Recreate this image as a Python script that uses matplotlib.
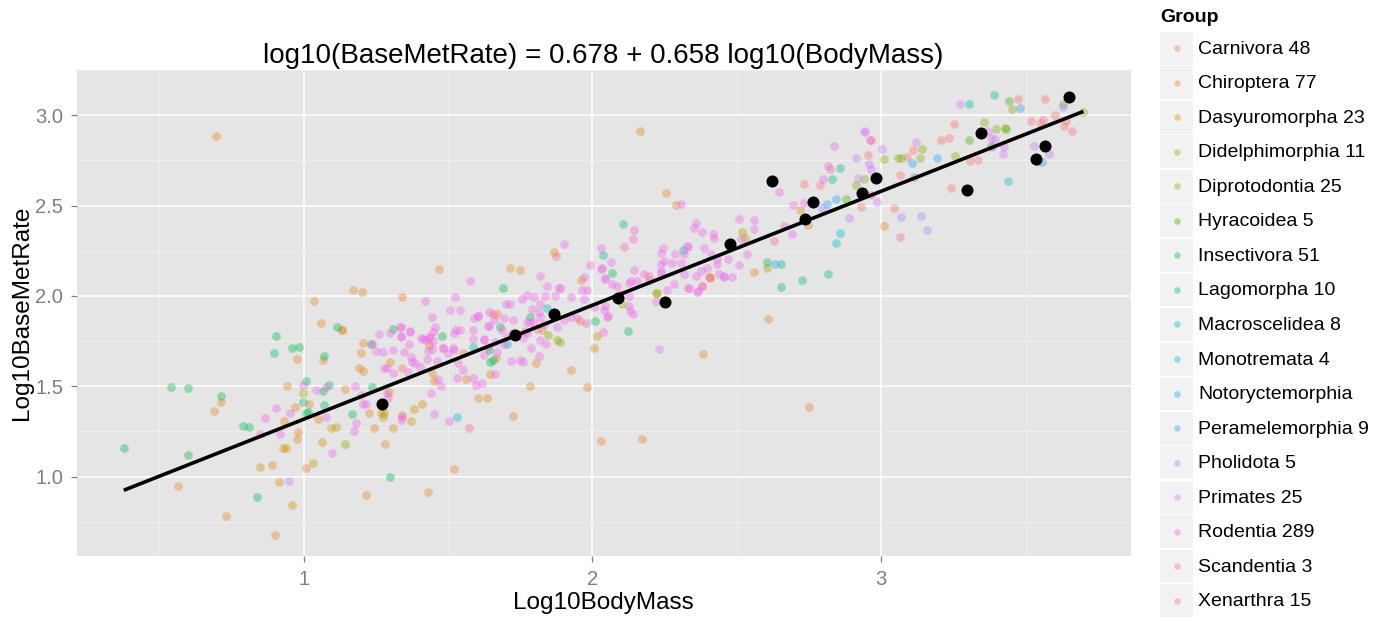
import numpy as np
import matplotlib
matplotlib.use("Agg")
import matplotlib.pyplot as plt
from matplotlib.patches import Rectangle

plt.rcParams['font.family'] = ['Liberation Sans', 'DejaVu Sans']

# ---------------- data (log10 body mass, log10 basal metabolic rate) ----------------
group_names = ["Carnivora", "Chiroptera", "Dasyuromorpha", "Didelphimorphia", "Diprotodontia",
               "Hyracoidea", "Insectivora", "Lagomorpha", "Macroscelidea", "Monotremata",
               "Notoryctemorphia", "Peramelemorphia", "Pholidota", "Primates", "Rodentia",
               "Scandentia", "Xenarthra"]
legend_labels = ["Carnivora 48", "Chiroptera 77", "Dasyuromorpha 23", "Didelphimorphia 11",
                 "Diprotodontia 25", "Hyracoidea 5", "Insectivora 51", "Lagomorpha 10",
                 "Macroscelidea 8", "Monotremata 4", "Notoryctemorphia", "Peramelemorphia 9",
                 "Pholidota 5", "Primates 25", "Rodentia 289", "Scandentia 3", "Xenarthra 15"]

carnivora = [(1.341, 1.602), (1.654, 1.897), (1.668, 1.902), (1.875, 2.219), (2.196, 2.110),
             (2.381, 2.055), (2.734, 2.617), (2.788, 2.612), (2.821, 2.700), (2.954, 2.777),
             (2.965, 2.860), (3.088, 2.770), (3.110, 2.805), (3.066, 2.669), (3.208, 2.864),
             (3.234, 2.875), (3.251, 2.952), (3.243, 2.598), (3.306, 2.746), (3.334, 2.750),
             (3.473, 3.090), (3.518, 2.967), (3.550, 2.954), (3.559, 2.972), (3.567, 3.087),
             (3.602, 3.000), (3.633, 2.939), (3.641, 2.967), (3.660, 2.912), (2.931, 2.494),
             (3.046, 2.488)]
chiroptera = [(0.697, 2.884), (0.566, 0.946), (0.713, 1.413), (0.688, 1.361), (0.730, 0.783),
              (0.890, 1.061), (0.916, 0.971), (0.900, 0.678), (0.976, 1.652), (1.036, 1.974),
              (1.059, 1.851), (1.132, 1.810), (1.066, 1.645), (0.942, 1.501), (1.017, 1.400),
              (0.971, 1.387), (0.933, 1.306), (1.048, 1.317), (0.980, 1.247), (0.976, 1.206),
              (1.008, 1.046), (1.143, 1.486), (1.207, 1.740), (1.200, 1.681),
              (1.192, 1.598), (1.206, 1.586), (1.227, 1.350), (1.242, 1.271),
              (1.310, 1.267), (1.282, 1.182), (1.216, 0.899), (1.429, 0.917), (1.522, 1.042),
              (1.341, 1.341), (1.296, 1.470), (1.299, 1.635), (1.435, 1.728), (1.443, 1.571),
              (1.452, 1.530), (1.551, 1.681), (1.561, 1.540), (1.605, 1.436), (1.634, 1.436),
              (1.667, 1.657), (1.726, 1.335), (1.806, 1.630), (1.785, 1.501), (1.825, 1.810),
              (1.924, 1.589), (1.958, 1.862), (1.982, 1.493), (2.030, 1.195), (1.339, 1.994),
              (1.468, 2.151), (1.713, 2.155), (1.748, 2.144), (1.171, 2.035), (1.201, 2.020),
              (1.866, 2.243), (1.961, 2.090), (2.164, 2.910), (2.255, 2.567), (2.289, 2.503),
              (2.406, 2.101), (2.560, 2.134), (2.719, 2.474), (2.748, 2.391), (3.011, 2.387),
              (2.608, 1.871), (2.384, 1.676), (2.751, 1.387), (2.170, 1.206), (1.134, 1.810)]
dasyuromorpha = [(0.848, 1.050), (0.958, 0.841), (0.930, 1.160), (0.939, 1.160), (1.063, 1.193),
                 (1.031, 1.077), (1.267, 1.350), (1.279, 1.350), (1.372, 1.308), (1.383, 1.372),
                 (1.411, 1.402), (2.016, 1.777), (2.005, 1.709), (1.646, 1.565), (1.095, 1.267),
                 (2.408, 2.105)]
didelphimorphia = [(1.112, 1.276), (1.275, 1.331), (2.603, 2.155), (2.518, 2.355), (2.528, 2.322),
                   (2.219, 2.015), (0.999, 1.460), (2.103, 1.954)]
diprotodontia = [(1.143, 1.178), (2.222, 2.015), (1.846, 1.783), (1.877, 1.755), (1.889, 1.746),
                 (2.913, 2.613), (2.939, 2.645), (3.454, 3.035), (3.630, 3.062), (3.700, 3.019),
                 (3.255, 2.773), (3.355, 2.960), (3.398, 2.923), (3.428, 2.930), (3.142, 2.811),
                 (3.134, 2.761), (3.067, 2.761), (3.058, 2.761), (3.008, 2.755)]
hyracoidea = [(2.878, 2.536), (3.442, 3.077), (3.431, 2.924), (3.303, 2.864), (3.379, 2.827)]
insectivora = [(0.377, 1.156), (0.542, 1.497), (0.600, 1.488), (0.600, 1.118), (0.713, 1.447),
               (0.791, 1.282), (0.811, 1.275), (0.837, 0.884), (0.904, 1.779), (0.896, 1.681),
               (0.958, 1.714), (0.985, 1.718), (1.116, 1.825), (1.069, 1.667), (1.007, 1.527),
               (1.087, 1.504), (1.066, 1.473), (0.999, 1.413), (1.007, 1.352), (1.016, 1.359),
               (1.069, 1.394), (1.166, 1.344), (1.237, 1.493), (1.233, 1.736), (1.311, 1.816),
               (1.300, 0.996), (1.479, 1.777), (1.681, 1.829), (1.657, 1.645), (1.643, 1.700),
               (1.646, 1.635), (1.785, 1.884), (2.008, 1.862), (2.124, 1.807), (2.066, 2.129),
               (2.603, 2.186), (2.654, 2.051), (1.690, 2.044)]
lagomorpha = [(2.037, 2.225), (2.107, 2.399), (2.653, 2.175), (2.726, 2.088), (2.815, 2.120),
              (2.858, 2.709), (2.829, 2.645), (3.303, 3.062), (3.389, 3.109)]
macroscelidea = [(1.588, 1.718), (1.704, 1.733), (2.315, 2.256), (1.844, 1.932)]
monotremata = [(3.438, 2.637), (3.556, 2.742), (2.857, 2.350), (2.843, 2.291)]
notoryctemorphia = [(1.530, 1.330)]
peramelemorphia = [(2.632, 2.178), (2.844, 2.536), (2.813, 2.507), (3.194, 2.764), (3.108, 2.736),
                   (3.113, 2.657), (3.480, 3.037)]
pholidota = [(3.137, 2.444), (3.157, 2.363), (3.628, 3.046), (2.794, 2.488), (3.067, 2.438)]
primates = [(2.232, 1.707), (2.236, 2.138), (2.317, 2.120), (2.454, 2.109), (2.986, 2.518),
            (3.122, 2.851), (2.942, 2.912), (3.003, 2.814), (2.956, 2.728), (2.963, 2.703),
            (3.528, 2.830), (3.581, 2.783), (3.544, 2.742), (3.273, 3.062), (3.370, 2.912),
            (3.379, 2.875), (3.393, 2.870), (3.426, 2.823), (3.423, 2.783), (3.382, 2.823),
            (2.919, 2.654), (2.944, 2.908), (2.911, 2.761), (2.890, 2.429), (0.948, 0.976)]
rodentia = [(0.999, 1.504), (1.041, 1.479), (1.077, 1.497), (0.904, 1.380), (0.866, 1.322),
            (0.952, 1.350), (1.077, 1.331), (0.847, 1.234), (0.918, 1.236), (1.098, 1.129),
            (1.421, 1.972), (1.525, 1.994), (1.262, 1.786), (1.299, 1.792), (1.333, 1.829),
            (1.338, 1.773), (1.369, 1.801), (1.250, 1.694), (1.179, 1.503), (1.200, 1.449),
            (1.204, 1.400), (1.215, 1.402), (1.181, 1.295), (1.174, 1.250), (1.339, 1.331),
            (1.336, 1.313), (1.452, 1.346), (1.504, 1.309), (1.287, 1.460), (1.293, 1.433),
            (1.277, 1.598), (1.287, 1.598), (1.310, 1.571), (1.360, 1.580), (1.375, 1.635),
            (1.387, 1.626), (1.403, 1.608), (1.311, 1.700), (1.347, 1.691), (1.363, 1.736),
            (1.373, 1.663), (1.405, 1.764), (1.424, 1.755), (1.429, 1.694), (1.444, 1.706),
            (1.447, 1.801), (1.438, 1.777), (1.456, 1.829), (1.446, 1.884), (1.428, 1.648),
            (1.461, 1.641), (1.484, 1.709), (1.499, 1.681), (1.440, 1.464), (1.475, 1.501),
            (1.464, 1.538), (1.507, 1.921), (1.528, 1.811), (1.542, 1.921), (1.522, 1.796),
            (1.519, 1.700), (1.536, 1.626), (1.550, 1.589), (1.532, 1.543), (1.591, 1.875),
            (1.605, 1.888), (1.588, 1.811), (1.623, 1.755), (1.641, 1.908), (1.588, 1.543),
            (1.597, 1.507), (1.617, 1.516), (1.640, 1.833), (1.660, 1.866), (1.692, 1.875),
            (1.725, 1.869), (1.623, 1.672), (1.640, 1.718), (1.663, 1.746), (1.669, 1.691),
            (1.663, 1.567), (1.692, 1.736), (1.704, 1.773), (1.721, 1.792), (1.719, 1.641),
            (1.750, 1.645), (1.759, 1.635), (1.701, 1.957), (1.715, 1.957), (1.756, 1.985),
            (1.773, 2.006), (1.796, 1.991), (1.819, 1.957), (1.790, 1.926), (1.814, 1.908),
            (1.872, 2.000), (1.924, 1.991), (1.970, 1.982), (2.005, 1.939), (1.773, 1.856),
            (1.796, 1.847), (1.819, 1.884), (1.808, 1.819), (1.761, 1.764), (1.788, 1.714),
            (1.773, 1.792), (1.819, 1.755), (1.839, 1.736), (1.785, 1.853), (1.767, 1.807),
            (1.831, 1.844), (1.814, 1.669), (1.588, 1.761), (1.623, 1.761), (1.275, 1.688),
            (1.235, 1.736), (1.368, 1.803), (1.336, 1.829), (1.337, 1.779), (1.412, 1.760),
            (1.433, 1.766), (1.449, 1.751), (1.481, 1.710), (1.518, 1.710), (1.540, 1.811),
            (1.602, 1.886), (1.643, 1.834), (1.686, 1.810), (1.877, 1.829), (1.900, 1.866),
            (1.924, 1.884), (1.947, 1.875), (1.976, 1.847), (2.051, 1.884), (2.039, 1.921),
            (1.903, 2.286), (1.576, 2.083), (1.817, 2.110), (1.843, 2.055), (1.884, 2.044),
            (1.964, 2.031), (1.982, 2.031), (1.972, 2.105), (2.028, 2.264), (1.991, 2.171),
            (2.028, 2.151), (1.887, 2.042), (1.837, 2.000), (2.063, 2.189), (2.034, 2.156),
            (2.045, 2.098), (2.068, 2.065), (2.097, 2.009), (2.126, 2.000), (2.144, 2.142),
            (2.178, 2.120), (2.236, 2.129), (2.248, 2.193), (2.238, 2.236), (2.276, 2.181),
            (2.285, 2.230), (2.317, 2.230), (2.306, 2.184), (2.331, 2.271), (2.352, 2.377),
            (2.360, 2.405), (2.381, 2.354), (2.416, 2.344), (2.422, 2.322), (2.410, 2.230),
            (2.431, 2.203), (2.396, 2.156), (2.375, 2.138), (2.358, 2.110), (2.331, 2.046),
            (2.361, 2.024), (2.381, 2.054), (2.404, 2.102), (2.439, 2.123), (2.456, 2.107),
            (2.482, 2.105), (2.508, 2.170), (2.506, 2.424), (2.534, 2.230), (2.560, 2.418),
            (2.560, 2.368), (2.662, 2.387), (2.690, 2.344), (2.645, 2.573), (2.696, 2.501),
            (2.798, 2.645), (2.815, 2.718), (2.835, 2.829), (2.086, 2.055), (2.126, 2.073),
            (2.196, 2.087), (2.239, 2.175), (2.245, 2.264), (2.329, 2.276), (2.387, 2.264),
            (2.468, 2.203), (2.433, 2.175), (2.335, 2.042), (2.364, 2.028), (2.282, 2.064),
            (2.259, 2.031), (2.132, 2.083), (2.155, 2.083), (2.514, 2.313), (2.037, 1.801),
            (2.053, 1.888), (2.045, 1.943), (2.126, 1.943), (2.130, 1.917), (2.140, 1.897),
            (2.219, 1.972), (2.306, 2.510), (2.045, 2.092), (2.960, 2.860), (2.734, 2.516)]
scandentia = [(2.144, 2.365), (2.139, 2.313), (2.109, 2.272)]
xenarthra = [(1.573, 1.271), (3.066, 2.326), (2.963, 2.558), (2.630, 2.304)]

group_points = [carnivora, chiroptera, dasyuromorpha, didelphimorphia, diprotodontia,
                hyracoidea, insectivora, lagomorpha, macroscelidea, monotremata,
                notoryctemorphia, peramelemorphia, pholidota, primates, rodentia,
                scandentia, xenarthra]

# group means (black points)
mean_x = [1.272, 1.733, 1.866, 2.090, 2.251, 2.477, 2.623, 2.736, 2.764, 2.935,
          2.981, 3.297, 3.347, 3.537, 3.567, 3.652]
mean_y = [1.402, 1.783, 1.897, 1.990, 1.966, 2.289, 2.635, 2.427, 2.518, 2.567,
          2.651, 2.588, 2.899, 2.756, 2.832, 3.103]

# fitted line drawn on the panel
line_intercept = 0.686
line_slope = 0.631

title_text = "log10(BaseMetRate) = 0.678 + 0.658 log10(BodyMass)"
x_label = "Log10BodyMass"
y_label = "Log10BaseMetRate"
x_ticks = [1, 2, 3]
y_ticks = [1.0, 1.5, 2.0, 2.5, 3.0]
y_tick_labels = ["1.0", "1.5", "2.0", "2.5", "3.0"]


# ---------------- ggplot2-like hue palette ----------------
def hcl_hex(h, c=100.0, l=65.0):
    hr = np.deg2rad(h)
    u = c * np.cos(hr)
    v = c * np.sin(hr)
    Xn, Yn, Zn = 95.047, 100.0, 108.883
    Y = Yn * ((l + 16) / 116) ** 3 if l > 8 else Yn * l / 903.3
    un = 4 * Xn / (Xn + 15 * Yn + 3 * Zn)
    vn = 9 * Yn / (Xn + 15 * Yn + 3 * Zn)
    up = u / (13 * l) + un
    vp = v / (13 * l) + vn
    X = 9.0 * Y * up / (4 * vp)
    Z = -X / 3 - 5 * Y + 3 * Y / vp
    X, Y, Z = X / 100, Y / 100, Z / 100
    r = 3.240479 * X - 1.537150 * Y - 0.498535 * Z
    g = -0.969256 * X + 1.875992 * Y + 0.041556 * Z
    b = 0.055648 * X - 0.204043 * Y + 1.057311 * Z

    def gam(t):
        t = 1.055 * t ** (1 / 2.4) - 0.055 if t > 0.0031308 else 12.92 * t
        return min(max(t, 0.0), 1.0)
    return (gam(r), gam(g), gam(b))


n = len(group_names)
hues = np.linspace(15, 375, n + 1)[:-1]
colors = [hcl_hex(h) for h in hues]

# ---------------- figure ----------------
W, H = 1385, 620
fig = plt.figure(figsize=(W / 100, H / 100), dpi=100)
ax = fig.add_axes([77 / W, 64 / H, 1054 / W, 486 / H])
ax.set_facecolor('#E5E5E5')
for s in ax.spines.values():
    s.set_visible(False)

ax.set_xlim(0.215, 3.865)
ax.set_ylim(0.560, 3.235)
ax.set_xticks(x_ticks)
ax.set_xticklabels([str(t) for t in x_ticks])
ax.set_yticks(y_ticks)
ax.set_yticklabels(y_tick_labels)
ax.set_xticks([0.5, 1.5, 2.5, 3.5], minor=True)
ax.set_yticks([0.75, 1.25, 1.75, 2.25, 2.75, 3.25], minor=True)
ax.grid(which='major', color='white', linewidth=1.1)
ax.grid(which='minor', color='#F2F2F2', linewidth=0.55)
ax.set_axisbelow(True)
ax.tick_params(which='minor', length=0)
ax.tick_params(which='major', length=4, width=0.9, color='#7F7F7F', labelcolor='#7F7F7F',
               labelsize=14.5, pad=6)

for pts, col in zip(group_points, colors):
    xs = [p[0] for p in pts]
    ys = [p[1] for p in pts]
    ax.scatter(xs, ys, s=40, color=col, alpha=0.38, linewidths=0, zorder=2)

all_x = [p[0] for pts in group_points for p in pts]
lx = np.array([min(all_x), max(all_x)])
ax.plot(lx, line_intercept + line_slope * lx, color='black', linewidth=2.6,
        solid_capstyle='butt', zorder=3)
ax.scatter(mean_x, mean_y, s=75, color='black', linewidths=0, zorder=4)

fig.text(603 / W, 1 - 63 / H, title_text, ha='center', va='baseline', fontsize=20)
fig.text(603 / W, 1 - 603 / H, x_label, ha='center', va='center', fontsize=17.5)
fig.text(22 / W, 1 - 313 / H, y_label, ha='center', va='center', fontsize=17.5, rotation=90)

# ---------------- legend ----------------
lax = fig.add_axes([0, 0, 1, 1], facecolor='none')
lax.set_xlim(0, W)
lax.set_ylim(H, 0)
lax.axis('off')
lax.text(1160, 17, "Group", ha='left', va='center', fontsize=14, fontweight='bold')
for i, (lab, col) in enumerate(zip(legend_labels, colors)):
    cy = 48 + i * 34.56
    lax.add_patch(Rectangle((1160, cy - 16.5), 33, 33, facecolor='#F2F2F2', edgecolor='none'))
    lax.scatter([1176.5], [cy], s=22, color=col, alpha=0.4, linewidths=0)
    lax.text(1198, cy + 1, lab, ha='left', va='center', fontsize=14)

fig.savefig("out.png", dpi=100)
